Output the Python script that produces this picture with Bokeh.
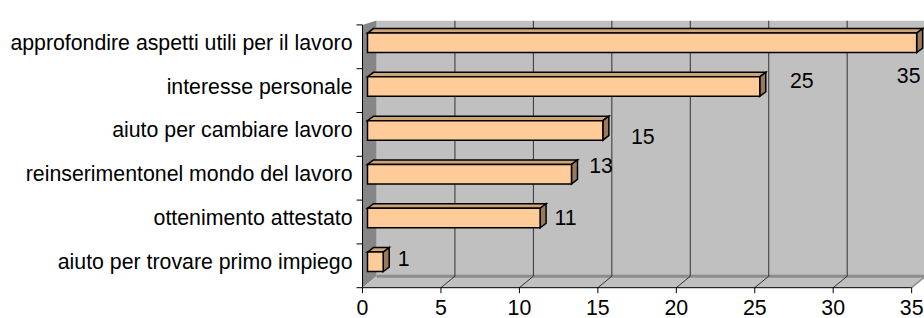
from bokeh.plotting import figure
from bokeh.models import FixedTicker, ColumnDataSource
from bokeh.embed import file_html
from bokeh.resources import INLINE
from bokeh.core.properties import value

# ---------------- data (bottom to top) ----------------
categories = [
    "aiuto per trovare primo impiego",
    "ottenimento attestato",
    "reinserimentonel mondo del lavoro",
    "aiuto per cambiare lavoro",
    "interesse personale",
    "approfondire aspetti utili per il lavoro",
]
values = [1, 11, 13, 15, 25, 35]
x_ticks = [0, 5, 10, 15, 20, 25, 30, 35]
# data-label nudges in screen px relative to bar end / bar centre (dx right, dy down)
label_dx = [20.6, 25.4, 29.5, 40, 42, -8]
label_dy = [-3.3, -0.5, -9, 5.6, -6, 33]

# ---------------- geometry (style) ----------------
PX_X = 15.69  # px per value unit
PX_Y = 43.8   # px per category unit


def ux(px):
    return px / PX_X


def uy(px):
    return px / PX_Y


W, H = 924, 318
AXIS_PX = 362          # canvas px of value 0 on the front plane
FRAME_L, FRAME_T = 352, 20
FLOOR_PX = 287.2

BAR_OX, BAR_OY = ux(5), uy(4)
y0 = -0.5 - BAR_OY
n = len(categories)
y_top_front = y0 + n
DEP_X, DEP_Y = ux(14), uy(11.5)
y_end = y0 + (FLOOR_PX - FRAME_T) / PX_Y
y_start = y0 - (H - FLOOR_PX) / PX_Y
x_start = -(AXIS_PX - FRAME_L) / PX_X
x_end = (W - AXIS_PX) / PX_X
xmax = x_ticks[-1]
FONT = "Liberation Sans"
FS = "21.3px"

p = figure(width=W, height=H, x_range=(x_start, x_end), y_range=(y_start, y_end),
           output_backend="svg", toolbar_location=None, x_axis_location=None,
           min_border_left=FRAME_L, min_border_top=FRAME_T,
           min_border_right=0, min_border_bottom=0)
p.grid.visible = False
p.outline_line_color = None
p.background_fill_color = "white"
p.border_fill_color = "white"

# back wall
p.quad(left=DEP_X, right=xmax + DEP_X + 2, bottom=y0 + DEP_Y, top=y_end,
       fill_color="#C0C0C0", line_color=None)
# left wall
p.patch([0, 0, DEP_X, DEP_X], [y0, y_top_front, y_end, y0 + DEP_Y],
        fill_color="#868686", line_color=None)
# floor
p.patch([0, xmax, xmax + DEP_X, DEP_X], [y0, y0, y0 + DEP_Y, y0 + DEP_Y],
        fill_color="#C0C0C0", line_color=None)
p.line([DEP_X, xmax + DEP_X], [y0 + DEP_Y, y0 + DEP_Y], line_color="#8C8C8C", line_width=3)

# gridlines on back wall
gx = [v + DEP_X for v in x_ticks[1:]]
p.segment(x0=gx, y0=[y0 + DEP_Y] * len(gx), x1=gx, y1=[y_end] * len(gx),
          line_color="#333333", line_width=1)
# floor diagonals
dx0 = x_ticks[1:-1]
p.segment(x0=dx0, y0=[y0] * len(dx0), x1=[v + DEP_X for v in dx0], y1=[y0 + DEP_Y] * len(dx0),
          line_color="#333333", line_width=1)
p.segment(x0=[xmax], y0=[y0], x1=[xmax + DEP_X], y1=[y0 + DEP_Y],
          line_color="#909090", line_width=1.5)

# bars
ks = list(range(n))
half = uy(9.75)
lefts = [BAR_OX] * n
rights = [BAR_OX + v for v in values]
bottoms = [k - half for k in ks]
tops = [k + half for k in ks]
BDX, BDY = ux(6), uy(4.5)
top_xs = [[l, l + BDX, r + BDX, r] for l, r in zip(lefts, rights)]
top_ys = [[t, t + BDY, t + BDY, t] for t in tops]
side_xs = [[r, r, r + BDX, r + BDX] for r in rights]
side_ys = [[b, t, t + BDY, b + BDY] for b, t in zip(bottoms, tops)]
p.patches(top_xs, top_ys, fill_color="#CCA37A", line_color="black", line_width=1.5,
          line_join="miter")
p.patches(side_xs, side_ys, fill_color="#99795C", line_color="black", line_width=1.5,
          line_join="miter")
src = ColumnDataSource(dict(left=lefts, right=rights, bottom=bottoms, top=tops))
p.quad(left="left", right="right", bottom="bottom", top="top", source=src,
       fill_color="#FFCC99", line_color="black", line_width=1.5, line_join="miter")

# data labels
lab = ColumnDataSource(dict(
    x=[BAR_OX + v + ux(dx) for v, dx in zip(values, label_dx)],
    y=[k - uy(dy) for k, dy in zip(ks, label_dy)],
    t=[str(v) for v in values]))
p.text(x="x", y="y", text="t", source=lab, text_align="center", text_baseline="middle",
       text_font=value(FONT), text_font_size=FS, text_color="black")

# front axis lines
p.line([0, xmax], [y0, y0], line_color="black", line_width=1)
p.line([0, 0], [y0, y_top_front], line_color="black", line_width=1)

# category-boundary ticks (pointing left from the value-0 line)
bnd = [y0 + i for i in range(n + 1)]
p.segment(x0=[-ux(6)] * len(bnd), y0=bnd, x1=[0] * len(bnd), y1=bnd,
          line_color="black", line_width=1)

# x ticks and labels
p.segment(x0=x_ticks, y0=[y0] * len(x_ticks), x1=x_ticks, y1=[y0 - uy(5.5)] * len(x_ticks),
          line_color="black", line_width=1)
p.text(x=x_ticks, y=[y0 - (306.5 - FLOOR_PX) / PX_Y] * len(x_ticks),
       text=[str(t) for t in x_ticks], text_align="center", text_baseline="middle",
       text_font=value(FONT), text_font_size=FS, text_color="black")

# category axis (labels only)
ax = p.yaxis[0]
ax.ticker = FixedTicker(ticks=ks, minor_ticks=[])
ax.major_label_overrides = {k: c for k, c in zip(ks, categories)}
ax.axis_line_color = None
ax.major_tick_line_color = None
ax.minor_tick_line_color = None
ax.major_tick_out = 0
ax.major_tick_in = 0
ax.minor_tick_out = 0
ax.minor_tick_in = 0
ax.major_label_standoff = 0
ax.major_label_text_font = FONT
ax.major_label_text_font_size = FS
ax.major_label_text_color = "black"

open("out.html", "w").write(file_html(p, INLINE))
